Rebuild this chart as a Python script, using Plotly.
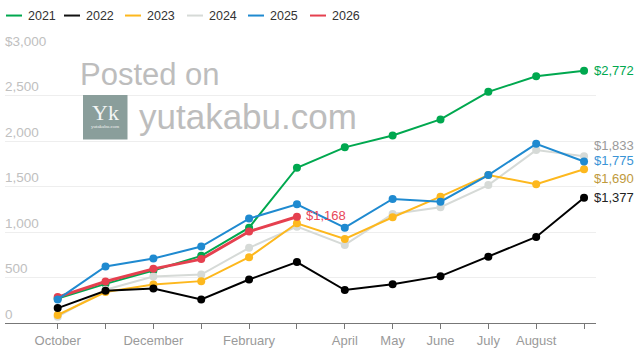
import plotly.graph_objects as go

months = ["October", "November", "December", "January", "February", "March",
          "April", "May", "June", "July", "August", "September"]
tick_labels = ["October", "", "December", "", "February", "", "April", "May", "June", "July", "August", ""]

y2021 = [270, 430, 577, 738, 1048, 1706, 1930, 2061, 2237, 2540, 2712, 2772]
y2022 = [164, 354, 380, 259, 478, 669, 362, 427, 515, 727, 946, 1377]
y2023 = [88, 340, 423, 460, 723, 1096, 924, 1162, 1388, 1626, 1524, 1690]
y2024 = [70, 365, 511, 533, 826, 1059, 858, 1198, 1272, 1516, 1900, 1833]
y2025 = [259, 621, 708, 840, 1147, 1305, 1048, 1363, 1333, 1626, 1969, 1775]
y2026 = [285, 456, 595, 702, 1005, 1168]

y_ticks = [0, 500, 1000, 1500, 2000, 2500, 3000]
y_tick_text = ["0", "500", "1,000", "1,500", "2,000", "2,500", "$3,000"]

FONT = "Liberation Sans"
W, H = 640, 360
L, R, T, B = 5, 596, 50, 323.3

def px(x):
    return (x - L) / (R - L)

def py(y):
    return (B - y) / (B - T)

series = [
    ("2021", y2021, "#00a84f", 2),
    ("2024", y2024, "#d6dad7", 2),
    ("2023", y2023, "#fdb81e", 2),
    ("2026", y2026, "#e5404f", 3),
    ("2025", y2025, "#1f8ad0", 2),
    ("2022", y2022, "#000000", 2),
]

fig = go.Figure()
for name, vals, color, lw in series:
    fig.add_trace(go.Scatter(
        x=months[:len(vals)], y=vals, name=name, mode="lines+markers",
        line=dict(color=color, width=lw), marker=dict(color=color, size=8),
        showlegend=False, cliponaxis=False,
    ))

annotations = []
shapes = []

legend_items = [("2021", "#00a84f", 6), ("2022", "#111111", 64), ("2023", "#fdb81e", 125),
                ("2024", "#d6dad7", 187), ("2025", "#1f8ad0", 248), ("2026", "#e5404f", 310)]
for name, color, x0 in legend_items:
    shapes.append(dict(type="line", xref="paper", yref="paper",
                       x0=px(x0), x1=px(x0 + 16), y0=py(15.5), y1=py(15.5),
                       line=dict(color=color, width=2)))
    annotations.append(dict(text=name, xref="paper", yref="paper", x=px(x0 + 20), y=py(16),
                            xanchor="left", yanchor="middle", showarrow=False,
                            font=dict(family=FONT, size=12.5, color="#333333")))

labels = [
    ("$2,772", "September", 2772, "#00a84f", 0, 8),
    ("$1,833", "September", 1833, "#9a9a9a", 11, 8),
    ("$1,775", "September", 1775, "#3a94d6", 1, 8),
    ("$1,690", "September", 1690, "#c09a3c", -9, 8),
    ("$1,377", "September", 1377, "#222222", 0, 8),
    ("$1,168", "March", 1168, "#e8475a", 1, 7),
]
for text, x, y, color, dy, dx in labels:
    annotations.append(dict(text=text, x=x, y=y, xanchor="left", yanchor="middle",
                            xshift=dx, yshift=dy, showarrow=False,
                            font=dict(family=FONT, size=13, color=color)))

annotations.append(dict(text="Posted on", xref="paper", yref="paper", x=px(78), y=py(75),
                        xanchor="left", yanchor="middle", showarrow=False,
                        font=dict(family=FONT, size=31, color="#bdbdbd")))
annotations.append(dict(text="yutakabu.com", xref="paper", yref="paper", x=px(137), y=py(117),
                        xanchor="left", yanchor="middle", showarrow=False,
                        font=dict(family=FONT, size=35, color="#bdbdbd")))
shapes.append(dict(type="rect", xref="paper", yref="paper", x0=px(83), x1=px(127.5),
                   y0=py(95), y1=py(139.5), fillcolor="#8a9e9b", line=dict(width=0)))
annotations.append(dict(text="Yk", xref="paper", yref="paper", x=px(105), y=py(112.5),
                        xanchor="center", yanchor="middle", showarrow=False,
                        font=dict(family="Liberation Serif", size=22, color="#f4f6f5")))
annotations.append(dict(text="yutakabu.com", xref="paper", yref="paper", x=px(105), y=py(126.5),
                        xanchor="center", yanchor="middle", showarrow=False,
                        font=dict(family="Liberation Serif", size=5, color="#f0f2f1")))

fig.update_layout(
    width=W, height=H, autosize=False,
    margin=dict(l=L, r=W - R, t=T, b=H - B, pad=0),
    paper_bgcolor="white", plot_bgcolor="white",
    showlegend=False,
    annotations=annotations, shapes=shapes,
    xaxis=dict(type="category", categoryorder="array", categoryarray=months,
               range=[-1.101, 11.25], tickmode="array", tickvals=months, ticktext=tick_labels,
               ticks="outside", ticklen=5, tickcolor="#777777", tickwidth=1,
               showgrid=False, showline=True, linecolor="#777777", linewidth=1, zeroline=False,
               tickfont=dict(family=FONT, size=13, color="#9a9a9a")),
    yaxis=dict(range=[0, 3000], tickmode="array", tickvals=y_ticks, ticktext=y_tick_text,
               ticks="", showline=False, zeroline=False,
               showgrid=True, gridcolor="#eeeeee", gridwidth=1,
               ticklabelposition="inside", ticklabelshift=-9, ticklabelstandoff=-3,
               ticklabeloverflow="allow",
               tickfont=dict(family=FONT, size=13.5, color="#c0c0c0")),
)

fig.write_html("out.html", post_script="document.body.style.margin='0';",
               config={"displayModeBar": False})
